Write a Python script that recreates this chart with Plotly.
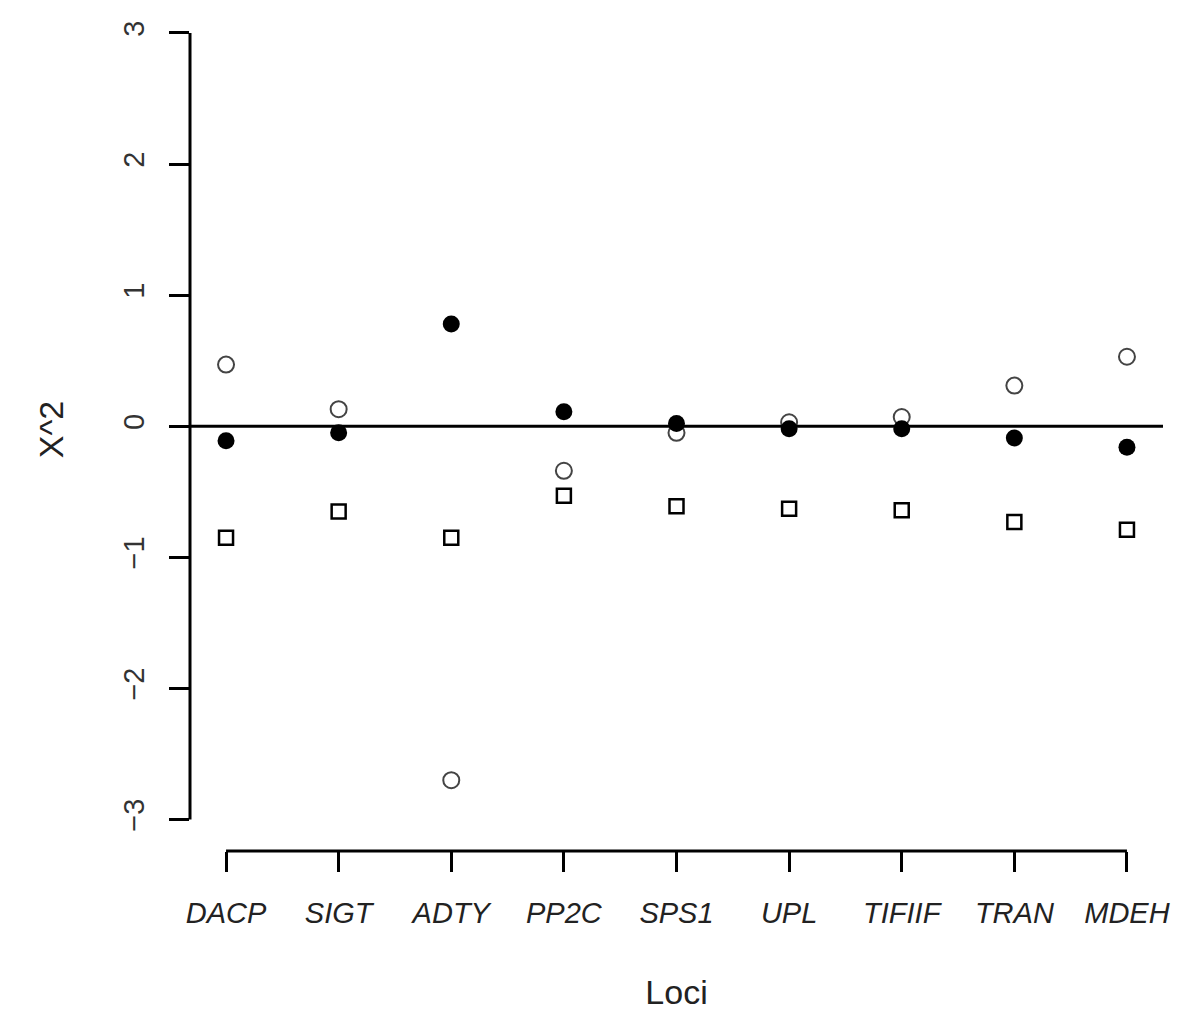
import plotly.graph_objects as go

loci = ["DACP", "SIGT", "ADTY", "PP2C", "SPS1", "UPL", "TIFIIF", "TRAN", "MDEH"]
open_circles = [0.47, 0.13, -2.70, -0.34, -0.05, 0.03, 0.07, 0.31, 0.53]
filled_circles = [-0.11, -0.05, 0.78, 0.11, 0.02, -0.02, -0.02, -0.09, -0.16]
squares = [-0.85, -0.65, -0.85, -0.53, -0.61, -0.63, -0.64, -0.73, -0.79]
y_ticks = [-3, -2, -1, 0, 1, 2, 3]

xpos = list(range(1, len(loci) + 1))
FONT = "Liberation Sans, Arial, sans-serif"

fig = go.Figure()
fig.add_trace(go.Scatter(x=xpos, y=open_circles, mode="markers",
                         marker=dict(symbol="circle-open", size=16, color="#444",
                                     line=dict(width=2, color="#444")),
                         showlegend=False))
fig.add_trace(go.Scatter(x=xpos, y=filled_circles, mode="markers",
                         marker=dict(symbol="circle", size=17, color="black",
                                     line=dict(width=0)),
                         showlegend=False))
fig.add_trace(go.Scatter(x=xpos, y=squares, mode="markers",
                         marker=dict(symbol="square-open", size=14, color="black",
                                     line=dict(width=2.5, color="black")),
                         showlegend=False))

# horizontal reference line at 0
fig.add_shape(type="line", xref="paper", x0=0, x1=1, yref="y", y0=0, y1=0,
              line=dict(color="black", width=3))
# R-style axis lines spanning first to last tick
fig.add_shape(type="line", xref="paper", x0=0, x1=0, yref="y",
              y0=min(y_ticks), y1=max(y_ticks), line=dict(color="black", width=3))
fig.add_shape(type="line", xref="x", x0=xpos[0], x1=xpos[-1], yref="paper",
              y0=0, y1=0, line=dict(color="black", width=3))

fig.update_xaxes(range=[0.68, 9.32], tickmode="array", tickvals=xpos, ticktext=loci,
                 showgrid=False, zeroline=False, showline=False, automargin=False,
                 ticks="outside", ticklen=20, tickwidth=3, tickcolor="black",
                 ticklabelstandoff=16,
                 tickfont=dict(family=FONT, size=29, color="#222", style="italic"),
                 title=dict(text="Loci", font=dict(family=FONT, size=34, color="#222"),
                            standoff=52))
fig.update_yaxes(range=[-3.24, 3.19], tickmode="array", tickvals=y_ticks,
                 showgrid=False, zeroline=False, showline=False, automargin=False,
                 ticks="outside", ticklen=20, tickwidth=3, tickcolor="black",
                 tickangle=-90, ticklabelstandoff=13,
                 tickfont=dict(family=FONT, size=29, color="#333"),
                 title=dict(text="X^2", font=dict(family=FONT, size=34, color="#222"),
                            standoff=44))

fig.update_layout(width=1200, height=1034, plot_bgcolor="white", paper_bgcolor="white",
                  margin=dict(l=182, r=45, t=0, b=191))

fig.write_html("out.html")
